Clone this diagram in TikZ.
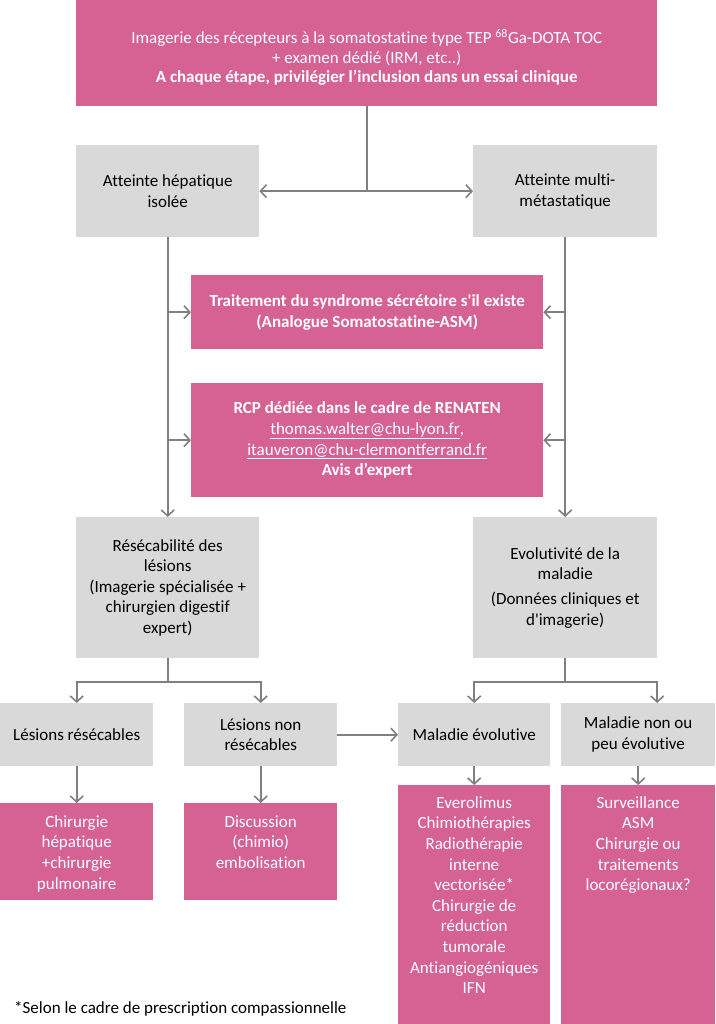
\documentclass[tikz,border=0pt]{standalone}
\usepackage{fontspec}
\setmainfont{Carlito}[Ligatures=NoCommon]
\usetikzlibrary{positioning, arrows.meta}

\begin{document}
\begin{tikzpicture}[x=1pt, y=-1pt,
  pinkbox/.style={fill=rose, text=white, inner sep=0pt, anchor=north west, align=center,
    font=\fontsize{17}{20.6}\selectfont},
  greybox/.style={fill=gris, text=black, inner sep=0pt, anchor=north west, align=center,
    font=\fontsize{17}{20.6}\selectfont},
  link/.style={draw=ligne, line width=1.8pt},
  arrow/.style={link, -{Straight Barb[length=6pt, width=13pt, line width=1.6pt]}},
  twoway/.style={link, {Straight Barb[length=6pt, width=13pt, line width=1.6pt]}-{Straight Barb[length=6pt, width=13pt, line width=1.6pt]}}]

% Define colors
\definecolor{rose}{RGB}{213,98,147}
\definecolor{gris}{RGB}{217,217,217}
\definecolor{ligne}{RGB}{128,128,128}

\useasboundingbox (0,0) rectangle (715,1024);

% Top box
\node[pinkbox, minimum width=581pt, minimum height=106pt, font=\fontsize{17}{19.5}\selectfont] (imagerie) at (76,0)
  {\rule{0pt}{23pt}Imagerie des récepteurs à la somatostatine type TEP \textsuperscript{68}Ga-DOTA TOC\\
   + examen dédié (IRM, etc..)\\
   \textbf{A chaque étape, privilégier l’inclusion dans un essai clinique}};

% First level
\node[greybox, minimum width=183pt, minimum height=92pt] (hepatique) at (76,145) {Atteinte hépatique\\isolée};
\node[greybox, minimum width=184pt, minimum height=92pt] (multi) at (473,145) {Atteinte multi-\\métastatique};

% Common steps
\node[pinkbox, minimum width=352pt, minimum height=74pt] (secretoire) at (191,275)
  {\textbf{Traitement du syndrome sécrétoire s\textquotesingle il existe}\\\textbf{(Analogue Somatostatine-ASM)}};
\node[pinkbox, minimum width=352pt, minimum height=114pt] (rcp) at (191,383)
  {\textbf{RCP dédiée dans le cadre de RENATEN}\\
   \underline{thomas.walter@chu-lyon.fr},\\
   \underline{itauveron@chu-clermontferrand.fr}\\
   \textbf{Avis d’expert}};

% Second level
\node[greybox, minimum width=183pt, minimum height=141pt] (resecabilite) at (76,517)
  {Résécabilité des\\lésions\\(Imagerie spécialisée +\\chirurgien digestif\\expert)};
\node[greybox, minimum width=184pt, minimum height=141pt] (evolutivite) at (473,517)
  {Evolutivité de la\\maladie\\[4pt](Données cliniques et\\d\textquotesingle imagerie)};

% Third level
\node[greybox, minimum width=153pt, minimum height=63pt] (resecables) at (0,703) {Lésions résécables};
\node[greybox, minimum width=153pt, minimum height=63pt] (nonresecables) at (184,703) {Lésions non\\résécables};
\node[greybox, minimum width=152pt, minimum height=63pt] (evolutive) at (398,703) {Maladie évolutive};
\node[greybox, minimum width=154pt, minimum height=63pt] (nonevolutive) at (561,703) {Maladie non ou\\peu évolutive};

% Treatments
\node[pinkbox] (chirurgie) at (0,803)
  {\parbox[t][97pt][t]{153pt}{\centering\rule{0pt}{24pt}Chirurgie\\hépatique\\+chirurgie\\pulmonaire}};
\node[pinkbox] (discussion) at (184,803)
  {\parbox[t][97pt][t]{153pt}{\centering\rule{0pt}{24pt}Discussion\\(chimio)\\embolisation}};
\node[pinkbox] (everolimus) at (398,785)
  {\parbox[t][239pt][t]{152pt}{\centering\rule{0pt}{23pt}Everolimus\\Chimiothérapies\\Radiothérapie\\interne\\vectorisée*\\Chirurgie de\\réduction\\tumorale\\Antiangiogéniques\\IFN}};
\node[pinkbox] (surveillance) at (561,785)
  {\parbox[t][239pt][t]{154pt}{\centering\rule{0pt}{23pt}Surveillance\\ASM\\Chirurgie ou\\traitements\\locorégionaux?}};

% Footnote
\node[anchor=west, inner sep=0pt, font=\fontsize{17}{20}\selectfont] (note) at (14,1009) {*Selon le cadre de prescription compassionnelle};

% Connectors
\coordinate (split) at (imagerie.south |- hepatique.east);
\draw[link] (imagerie.south) -- (split);
\draw[twoway] (hepatique.east) -- (multi.west);

\draw[arrow] (hepatique.south) -- (resecabilite.north);
\draw[arrow] (hepatique.south |- secretoire.west) -- (secretoire.west);
\draw[arrow] (hepatique.south |- rcp.west) -- (rcp.west);
\draw[arrow] (multi.south) -- (evolutivite.north);
\draw[arrow] (multi.south |- secretoire.east) -- (secretoire.east);
\draw[arrow] (multi.south |- rcp.east) -- (rcp.east);

\coordinate (lfork) at (resecabilite.south |- 0,682);
\draw[link] (resecabilite.south) -- (lfork);
\draw[arrow] (lfork) -| (resecables.north);
\draw[arrow] (lfork) -| (nonresecables.north);

\coordinate (rfork) at (evolutivite.south |- 0,682);
\draw[link] (evolutivite.south) -- (rfork);
\draw[arrow] (rfork) -| (evolutive.north);
\draw[arrow] (rfork) -| ([xshift=19pt]nonevolutive.north);

\draw[arrow] (nonresecables.east) -- (evolutive.west);

\draw[arrow] (resecables.south) -- (chirurgie.north);
\draw[arrow] (nonresecables.south) -- (discussion.north);
\draw[arrow] (evolutive.south) -- (everolimus.north);
\draw[arrow] (nonevolutive.south) -- (surveillance.north);

\end{tikzpicture}
\end{document}
